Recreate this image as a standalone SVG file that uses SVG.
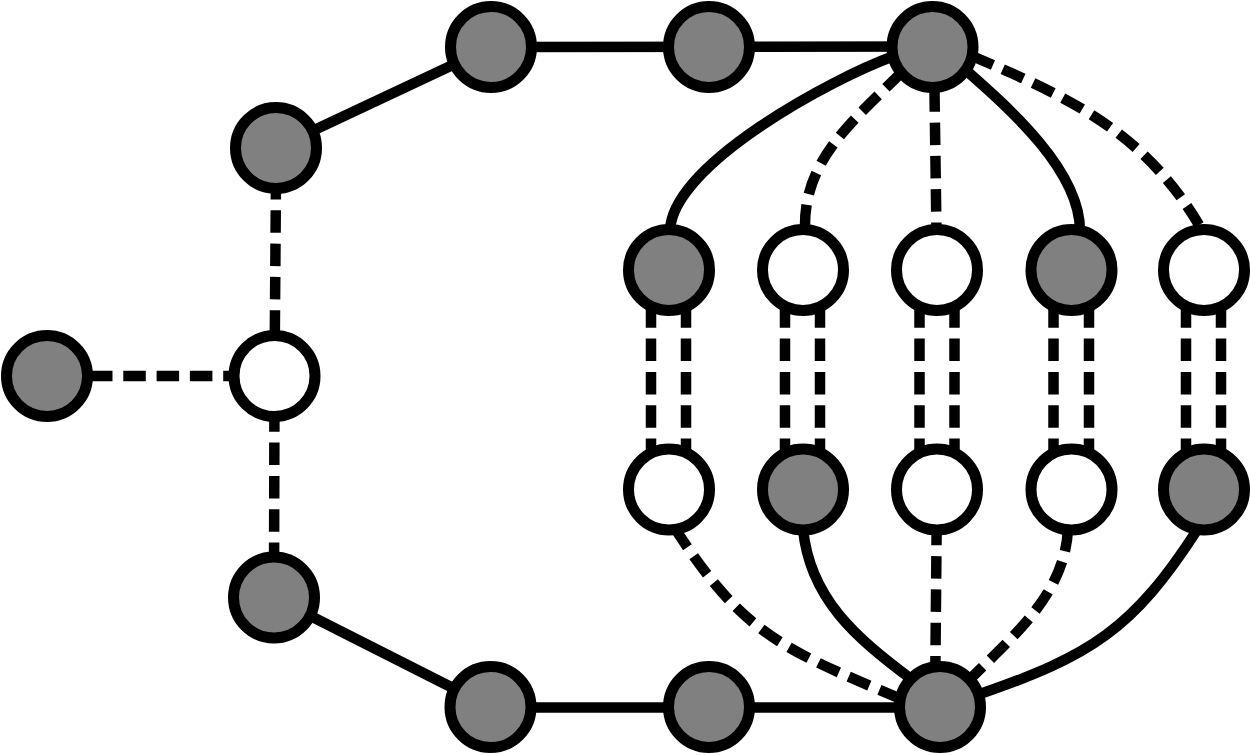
<svg xmlns="http://www.w3.org/2000/svg" width="1250" height="755" viewBox="0 0 1250 755">
<style>
.e{fill:none;stroke:#000;stroke-width:10.5}
.d{stroke-dasharray:22.5 10.8}
.g{fill:#808080;stroke:#000;stroke-width:11}
.w{fill:#fff;stroke:#000;stroke-width:11}
</style>
<rect width="1250" height="755" fill="#fff"/>
<g id="connectors">
<line class="e d" x1="90" y1="376" x2="274.5" y2="376"/>
<line class="e d" x1="276" y1="177" x2="274.5" y2="376"/>
<line class="e d" x1="274.5" y1="376" x2="274" y2="597.5"/>
<line class="e" x1="276" y1="148" x2="491" y2="47"/>
<line class="e" x1="491" y1="47" x2="932.5" y2="46.5"/>
<line class="e" x1="274" y1="597.5" x2="490.5" y2="707"/>
<line class="e" x1="490.5" y1="707.5" x2="940" y2="707.5"/>
<line class="e d" x1="934" y1="56" x2="937" y2="270"/>
<line class="e d" x1="937" y1="489.5" x2="935" y2="707"/>
<path class="e" d="M894,56 C832,78.4 673.3,164 670,230"/>
<path class="e d" d="M902,72 C852.5,121.5 802.9,160 805,230"/>
<path class="e" d="M965.7,70 C1010.7,109.6 1080,170.8 1080,230.8"/>
<path class="e d" d="M972,56 C1073.2,98.9 1147,134.3 1202,230"/>
<path class="e d" d="M675,528.5 C743.6,635.2 784.2,649.5 901,699"/>
<path class="e" d="M803,529 C810,599 856,637.6 912,679.6"/>
<path class="e d" d="M1068,529 C1064.75,594 1014.8,634.4 968.8,680.4"/>
<path class="e" d="M1198,528.5 C1133.2,629.3 1091.3,655.8 977.8,694.8"/>
<g class="e d">
<line x1="651" y1="272" x2="651" y2="489.5"/><line x1="686" y1="272" x2="686" y2="489.5"/>
<line x1="785" y1="272" x2="785" y2="489.5"/><line x1="820" y1="272" x2="820" y2="489.5"/>
<line x1="919.5" y1="272" x2="919.5" y2="489.5"/><line x1="954.5" y1="272" x2="954.5" y2="489.5"/>
<line x1="1053.5" y1="272" x2="1053.5" y2="489.5"/><line x1="1089" y1="272" x2="1089" y2="489.5"/>
<line x1="1186" y1="272" x2="1186" y2="489.5"/><line x1="1221" y1="272" x2="1221" y2="489.5"/>
</g>
</g>
<g id="n-left"><circle class="g" cx="47" cy="376" r="40.5"/></g>
<g id="n-mid"><circle class="w" cx="274.5" cy="376" r="40.5"/></g>
<g id="n-upper"><circle class="g" cx="276" cy="148" r="40.5"/></g>
<g id="n-lower"><circle class="g" cx="274" cy="597.5" r="40.5"/></g>
<g id="n-t1"><circle class="g" cx="491" cy="47" r="40.5"/></g>
<g id="n-t2"><circle class="g" cx="709" cy="47" r="40.5"/></g>
<g id="n-hubT"><circle class="g" cx="932.5" cy="47" r="40.5"/></g>
<g id="n-b1"><circle class="g" cx="490.5" cy="707" r="40.5"/></g>
<g id="n-b2"><circle class="g" cx="709" cy="707" r="40.5"/></g>
<g id="n-hubB"><circle class="g" cx="940" cy="707" r="40.5"/></g>
<g id="n-m1"><circle class="g" cx="669" cy="270" r="40.5"/></g>
<g id="n-m2"><circle class="w" cx="803" cy="270" r="40.5"/></g>
<g id="n-m3"><circle class="w" cx="937" cy="270" r="40.5"/></g>
<g id="n-m4"><circle class="g" cx="1071.5" cy="270" r="40.5"/></g>
<g id="n-m5"><circle class="w" cx="1204" cy="270" r="40.5"/></g>
<g id="n-l1"><circle class="w" cx="669" cy="489.5" r="40.5"/></g>
<g id="n-l2"><circle class="g" cx="803" cy="489.5" r="40.5"/></g>
<g id="n-l3"><circle class="w" cx="937" cy="489.5" r="40.5"/></g>
<g id="n-l4"><circle class="w" cx="1071.5" cy="489.5" r="40.5"/></g>
<g id="n-l5"><circle class="g" cx="1204" cy="489.5" r="40.5"/></g>
</svg>
